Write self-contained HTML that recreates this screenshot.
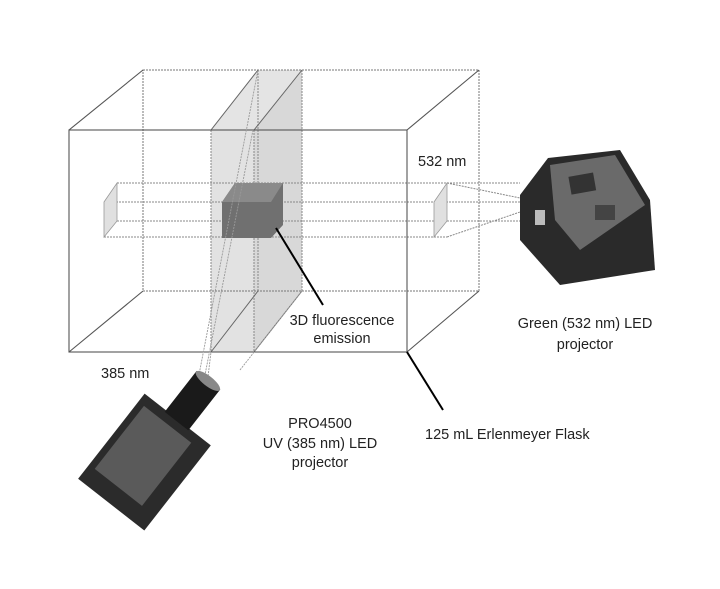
<!DOCTYPE html>
<html><head><meta charset="utf-8"><style>
html,body{margin:0;padding:0;background:#fff;}
svg{display:block;}
text{font-family:"Liberation Sans",Arial,sans-serif;font-size:14.5px;fill:#222;}
</style></head><body>
<svg width="720" height="589" viewBox="0 0 720 589" xmlns="http://www.w3.org/2000/svg">
<defs>
<pattern id="dots" width="3" height="3" patternUnits="userSpaceOnUse"><rect width="3" height="3" fill="#ddd"/><rect width="1" height="1" fill="#aaa"/></pattern>
</defs>
<!-- slab -->
<polygon points="211,130 258,70 302,70 254,130" fill="#e4e4e4"/>
<rect x="211" y="130" width="43" height="222" fill="#e2e2e2"/>
<polygon points="254,130 302,70 302,291 254,352" fill="#d8d8d8"/>
<g stroke="#888" stroke-width="1" stroke-dasharray="2,1" fill="none">
<line x1="258" y1="70" x2="258" y2="291"/>
<line x1="302" y1="70" x2="302" y2="291"/>
<line x1="211" y1="130" x2="211" y2="352"/>
<line x1="254" y1="130" x2="254" y2="352"/>
</g>
<g stroke="#666" stroke-width="1" fill="none">
<line x1="211" y1="130" x2="258" y2="70"/>
<line x1="254" y1="130" x2="302" y2="70"/>
<line x1="211" y1="352" x2="258" y2="291"/>
<line x1="254" y1="352" x2="302" y2="291"/>
</g>
<!-- back box -->
<g stroke="#777" stroke-width="1" stroke-dasharray="2,1" fill="none">
<rect x="143" y="70" width="336" height="221"/>
</g>
<!-- horizontal beam -->
<g stroke="#888" stroke-width="1" stroke-dasharray="2,1" fill="none">
<line x1="117" y1="183" x2="520" y2="183"/>
<line x1="104" y1="202" x2="520" y2="202"/>
<line x1="117" y1="221" x2="520" y2="221"/>
<line x1="104" y1="237" x2="447" y2="237"/>
<line x1="447" y1="183" x2="520" y2="198"/>
<line x1="447" y1="237" x2="520" y2="212"/>
</g>
<polygon points="104,202 117,183 117,221 104,237" fill="#e0e0e0" stroke="#999" stroke-width="0.8"/>
<polygon points="434,202 447,183 447,221 434,237" fill="#e0e0e0" stroke="#999" stroke-width="0.8"/>
<!-- dark cube -->
<polygon points="222,202 235,183 283,183 283,225 271,238 222,238" fill="#707070"/>
<polygon points="222,202 235,183 283,183 271,202" fill="#8a8a8a"/>
<!-- front box -->
<g stroke="#555" stroke-width="1.1" fill="none">
<rect x="69" y="130" width="338" height="222"/>
<line x1="69" y1="130" x2="143" y2="70"/>
<line x1="407" y1="130" x2="479" y2="70"/>
<line x1="69" y1="352" x2="143" y2="291"/>
<line x1="407" y1="352" x2="479" y2="291"/>
</g>
<!-- UV beam lines -->
<g stroke="#999" stroke-width="0.9" stroke-dasharray="2,1" fill="none">
<line x1="197" y1="385" x2="258" y2="70"/>
<line x1="203" y1="385" x2="253" y2="130"/>
<line x1="207" y1="385" x2="211" y2="352"/>
<line x1="240" y1="370" x2="302" y2="291"/>
</g>
<!-- leaders -->
<line x1="276" y1="228" x2="323" y2="305" stroke="#000" stroke-width="2"/>
<line x1="407" y1="352" x2="443" y2="410" stroke="#000" stroke-width="2"/>
<!-- green projector -->
<g>
<polygon points="520,195 548,158 620,150 650,200 655,270 560,285 520,240" fill="#2a2a2a"/>
<polygon points="550,165 615,155 645,205 580,250 555,220" fill="#6a6a6a"/>
<rect x="570" y="175" width="25" height="18" fill="#333" transform="rotate(-10 580 185)"/>
<rect x="595" y="205" width="20" height="15" fill="#444"/>
<rect x="535" y="210" width="10" height="15" fill="#bbb"/>
</g>
<!-- UV projector -->
<g transform="rotate(38 150 455)">
<rect x="108" y="410" width="84" height="108" fill="#2b2b2b"/>
<rect x="115" y="420" width="60" height="80" fill="#5a5a5a"/>
<rect x="135" y="360" width="30" height="52" fill="#1a1a1a"/>
<ellipse cx="150" cy="361" rx="15" ry="5" fill="#888"/>
</g>
<!-- texts -->
<text x="418" y="166">532 nm</text>
<text x="342" y="325" text-anchor="middle">3D fluorescence</text>
<text x="342" y="343" text-anchor="middle">emission</text>
<text x="101" y="378">385 nm</text>
<text x="585" y="328" text-anchor="middle">Green (532 nm) LED</text>
<text x="585" y="349" text-anchor="middle">projector</text>
<text x="320" y="428" text-anchor="middle">PRO4500</text>
<text x="320" y="448" text-anchor="middle">UV (385 nm) LED</text>
<text x="320" y="467" text-anchor="middle">projector</text>
<text x="425" y="439">125 mL Erlenmeyer Flask</text>
</svg>
</body></html>
